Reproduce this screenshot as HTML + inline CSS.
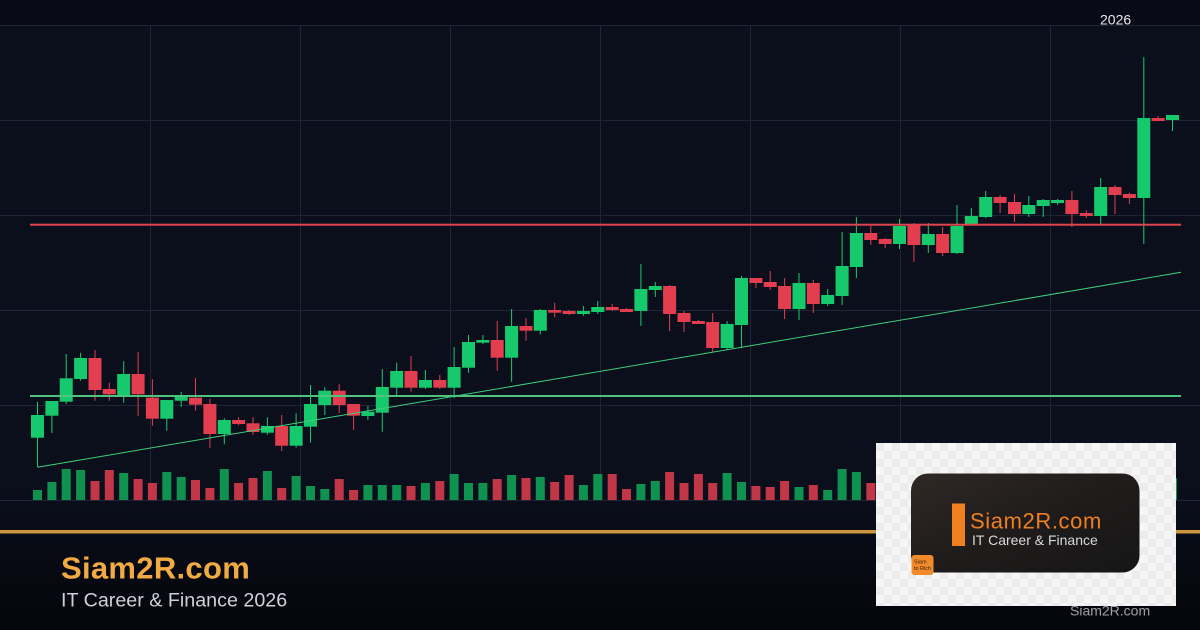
<!DOCTYPE html>
<html>
<head>
<meta charset="utf-8">
<style>
html,body{margin:0;padding:0;background:#0a0e1a;}
body{width:1200px;height:630px;overflow:hidden;}
svg{display:block;}
.g{fill:#16c96c}
.r{fill:#e23e4f}
.vg{fill:#0f914f}
.vr{fill:#c23748}
</style>
</head>
<body>
<svg width="1200" height="630" viewBox="0 0 1200 630" xmlns="http://www.w3.org/2000/svg">
<defs>
  <linearGradient id="fade" x1="0" y1="0" x2="0" y2="1">
    <stop offset="0" stop-color="#000" stop-opacity="0"/>
    <stop offset="1" stop-color="#000" stop-opacity="0.6"/>
  </linearGradient>
  <pattern id="chk" x="876" y="443" width="16" height="16" patternUnits="userSpaceOnUse">
    <rect width="16" height="16" fill="#f6f6f6"/>
    <rect width="8" height="8" fill="#ececec"/>
    <rect x="8" y="8" width="8" height="8" fill="#ececec"/>
  </pattern>
  <linearGradient id="dark" x1="0" y1="0" x2="1" y2="1">
    <stop offset="0" stop-color="#2f2825"/>
    <stop offset="0.5" stop-color="#1f1c1b"/>
    <stop offset="1" stop-color="#161616"/>
  </linearGradient>
</defs>

<!-- background -->
<rect x="0" y="0" width="1200" height="630" fill="#0b0f1c"/>
<rect x="0" y="0" width="1200" height="25" fill="#080b15"/>
<rect x="0" y="480" width="1200" height="150" fill="url(#fade)"/>

<!-- grid -->
<g stroke="#1f2436" stroke-width="1">
  <path d="M0 25.5H1200M0 120.5H1200M0 215.5H1200M0 310.5H1200M0 405.5H1200M0 500.5H1200"/>
  <path d="M150.5 25V500M300.5 25V500M450.5 25V500M600.5 25V500M750.5 25V500M900.5 25V500M1050.5 25V500"/>
</g>

<text x="1100" y="24.5" font-family="Liberation Sans, sans-serif" font-size="14" fill="#e6e8ec">2026</text>

<!-- volume bars -->
<g>
<rect class="vg" x="33" y="490" width="9" height="10"/>
<rect class="vg" x="47.4" y="482" width="9" height="18"/>
<rect class="vg" x="61.7" y="469" width="9" height="31"/>
<rect class="vg" x="76.1" y="470" width="9" height="30"/>
<rect class="vr" x="90.5" y="481" width="9" height="19"/>
<rect class="vr" x="104.8" y="470" width="9" height="30"/>
<rect class="vg" x="119.2" y="473" width="9" height="27"/>
<rect class="vr" x="133.6" y="479" width="9" height="21"/>
<rect class="vr" x="147.9" y="483" width="9" height="17"/>
<rect class="vg" x="162.3" y="472" width="9" height="28"/>
<rect class="vg" x="176.7" y="477" width="9" height="23"/>
<rect class="vr" x="191" y="480" width="9" height="20"/>
<rect class="vr" x="205.4" y="488" width="9" height="12"/>
<rect class="vg" x="219.8" y="469" width="9" height="31"/>
<rect class="vr" x="234.1" y="483" width="9" height="17"/>
<rect class="vr" x="248.5" y="478" width="9" height="22"/>
<rect class="vg" x="262.9" y="471" width="9" height="29"/>
<rect class="vr" x="277.2" y="488" width="9" height="12"/>
<rect class="vg" x="291.6" y="476" width="9" height="24"/>
<rect class="vg" x="306" y="486" width="9" height="14"/>
<rect class="vg" x="320.3" y="489" width="9" height="11"/>
<rect class="vr" x="334.7" y="479" width="9" height="21"/>
<rect class="vr" x="349.1" y="490" width="9" height="10"/>
<rect class="vg" x="363.4" y="485" width="9" height="15"/>
<rect class="vg" x="377.8" y="485" width="9" height="15"/>
<rect class="vg" x="392.2" y="485" width="9" height="15"/>
<rect class="vr" x="406.5" y="486" width="9" height="14"/>
<rect class="vg" x="420.9" y="483" width="9" height="17"/>
<rect class="vr" x="435.3" y="481" width="9" height="19"/>
<rect class="vg" x="449.6" y="474" width="9" height="26"/>
<rect class="vg" x="464" y="483" width="9" height="17"/>
<rect class="vg" x="478.4" y="483" width="9" height="17"/>
<rect class="vr" x="492.7" y="479" width="9" height="21"/>
<rect class="vg" x="507.1" y="475" width="9" height="25"/>
<rect class="vr" x="521.5" y="478" width="9" height="22"/>
<rect class="vg" x="535.8" y="477" width="9" height="23"/>
<rect class="vr" x="550.2" y="482" width="9" height="18"/>
<rect class="vr" x="564.6" y="475" width="9" height="25"/>
<rect class="vg" x="578.9" y="485" width="9" height="15"/>
<rect class="vg" x="593.3" y="474" width="9" height="26"/>
<rect class="vr" x="607.7" y="474" width="9" height="26"/>
<rect class="vr" x="622" y="489" width="9" height="11"/>
<rect class="vg" x="636.4" y="484" width="9" height="16"/>
<rect class="vg" x="650.8" y="481" width="9" height="19"/>
<rect class="vr" x="665.1" y="472" width="9" height="28"/>
<rect class="vr" x="679.5" y="483" width="9" height="17"/>
<rect class="vr" x="693.9" y="474" width="9" height="26"/>
<rect class="vr" x="708.2" y="483" width="9" height="17"/>
<rect class="vg" x="722.6" y="473" width="9" height="27"/>
<rect class="vg" x="737" y="482" width="9" height="18"/>
<rect class="vr" x="751.4" y="486" width="9" height="14"/>
<rect class="vr" x="765.7" y="487" width="9" height="13"/>
<rect class="vr" x="780.1" y="481" width="9" height="19"/>
<rect class="vg" x="794.5" y="487" width="9" height="13"/>
<rect class="vr" x="808.8" y="485" width="9" height="15"/>
<rect class="vg" x="823.2" y="490" width="9" height="10"/>
<rect class="vg" x="837.6" y="469" width="9" height="31"/>
<rect class="vg" x="851.9" y="472" width="9" height="28"/>
<rect class="vr" x="866.3" y="483" width="9" height="17"/>
<rect class="vg" x="1168" y="478" width="9" height="22"/>
</g>

<!-- wicks -->
<path fill="none" stroke="#16c96c" stroke-width="1" d="M37.5 401.7V467M51.9 401V433M66.2 354V404M80.6 352.7V380.7M123.7 361.3V402.7M166.8 400V430.7M181.2 392V406.7M224.3 418.3V444.3M267.4 417.3V434.7M296.1 413.3V447.7M310.5 385V442.7M324.8 387.3V415M367.9 406V420M382.3 369V431.7M396.7 362.7V395M425.4 370V389M454.1 347V398.3M468.5 335V372.7M482.9 335V344M511.6 309V381.7M540.3 309V334.3M583.4 306V315.7M597.8 301V314M640.9 264V326M655.3 282V297M727.1 321V350M741.5 276V348M799 273V320M827.7 289V306M842.1 232V305M856.4 217V278M899.5 219V249M928.3 223V253M957 205V254M971.4 208V224M985.7 191V218M1028.8 196V217M1043.2 199V217M1057.6 199V205M1100.7 178V224M1143.8 57V244M1172.5 115V131"/>
<path fill="none" stroke="#e23e4f" stroke-width="1" d="M95 350V400.7M109.3 382.7V400.7M138.1 352V415.7M152.4 379.3V425.7M195.5 378V410.7M209.9 399V448.3M238.6 417.3V425.3M253 417.3V434.7M281.7 415V451M339.2 384V413.3M353.6 404V430M411 356V391.7M439.8 375V389M497.2 321V370.7M526 318V340.7M554.7 302.7V317.3M569.1 310V315M612.2 304V311M626.5 308V312M669.6 285V331M684 311V332M698.4 320V324M712.7 313V352M755.9 278V288M770.2 271V290M784.6 278V319M813.3 280V313M870.8 226V245M885.2 238V248M913.9 223V262M942.6 227V256M1000.1 195V213M1014.5 194V222M1071.9 191V227M1086.3 210V218M1115 185V214M1129.4 193V204M1158.1 116V121"/>

<!-- bodies -->
<g>
<rect class="g" x="31" y="415" width="13" height="22.7"/>
<rect class="g" x="45.4" y="401" width="13" height="14.7"/>
<rect class="g" x="59.7" y="378.3" width="13" height="23.4"/>
<rect class="g" x="74.1" y="358" width="13" height="21"/>
<rect class="r" x="88.5" y="358" width="13" height="32"/>
<rect class="r" x="102.8" y="389" width="13" height="5.3"/>
<rect class="g" x="117.2" y="374" width="13" height="21.7"/>
<rect class="r" x="131.6" y="374" width="13" height="20.3"/>
<rect class="r" x="145.9" y="397.7" width="13" height="21"/>
<rect class="g" x="160.3" y="400" width="13" height="18.7"/>
<rect class="g" x="174.7" y="395.7" width="13" height="5"/>
<rect class="r" x="189" y="397.7" width="13" height="7"/>
<rect class="r" x="203.4" y="404" width="13" height="30"/>
<rect class="g" x="217.8" y="420" width="13" height="14"/>
<rect class="r" x="232.1" y="420" width="13" height="4"/>
<rect class="r" x="246.5" y="423.3" width="13" height="8.7"/>
<rect class="g" x="260.9" y="426" width="13" height="6.7"/>
<rect class="r" x="275.2" y="426" width="13" height="19.7"/>
<rect class="g" x="289.6" y="426" width="13" height="19.7"/>
<rect class="g" x="304" y="404" width="13" height="22.7"/>
<rect class="g" x="318.3" y="390.7" width="13" height="14.3"/>
<rect class="r" x="332.7" y="390.7" width="13" height="14.3"/>
<rect class="r" x="347.1" y="404" width="13" height="11.7"/>
<rect class="g" x="361.4" y="411.7" width="13" height="4.3"/>
<rect class="g" x="375.8" y="387" width="13" height="25.7"/>
<rect class="g" x="390.2" y="371" width="13" height="16.7"/>
<rect class="r" x="404.5" y="371" width="13" height="16.7"/>
<rect class="g" x="418.9" y="380" width="13" height="7.7"/>
<rect class="r" x="433.3" y="380" width="13" height="7.7"/>
<rect class="g" x="447.6" y="367" width="13" height="20.7"/>
<rect class="g" x="462" y="342" width="13" height="25.7"/>
<rect class="g" x="476.4" y="340" width="13" height="2.7"/>
<rect class="r" x="490.7" y="340" width="13" height="17.7"/>
<rect class="g" x="505.1" y="326" width="13" height="31.7"/>
<rect class="r" x="519.5" y="326" width="13" height="4.7"/>
<rect class="g" x="533.8" y="310" width="13" height="20.7"/>
<rect class="r" x="548.2" y="310" width="13" height="2.7"/>
<rect class="r" x="562.6" y="311" width="13" height="3"/>
<rect class="g" x="576.9" y="311" width="13" height="3"/>
<rect class="g" x="591.3" y="307" width="13" height="5"/>
<rect class="r" x="605.7" y="307" width="13" height="3"/>
<rect class="r" x="620" y="309" width="13" height="3"/>
<rect class="g" x="634.4" y="289" width="13" height="22"/>
<rect class="g" x="648.8" y="286" width="13" height="4"/>
<rect class="r" x="663.1" y="286" width="13" height="28"/>
<rect class="r" x="677.5" y="313" width="13" height="9"/>
<rect class="r" x="691.9" y="321" width="13" height="3"/>
<rect class="r" x="706.2" y="322" width="13" height="26"/>
<rect class="g" x="720.6" y="324" width="13" height="24"/>
<rect class="g" x="735" y="278" width="13" height="47"/>
<rect class="r" x="749.4" y="278" width="13" height="5"/>
<rect class="r" x="763.7" y="282" width="13" height="5"/>
<rect class="r" x="778.1" y="286" width="13" height="23"/>
<rect class="g" x="792.5" y="283" width="13" height="26"/>
<rect class="r" x="806.8" y="283" width="13" height="21"/>
<rect class="g" x="821.2" y="295" width="13" height="9"/>
<rect class="g" x="835.6" y="266" width="13" height="30"/>
<rect class="g" x="849.9" y="233" width="13" height="34"/>
<rect class="r" x="864.3" y="233" width="13" height="7"/>
<rect class="r" x="878.7" y="239" width="13" height="5"/>
<rect class="g" x="893" y="226" width="13" height="18"/>
<rect class="r" x="907.4" y="225" width="13" height="20"/>
<rect class="g" x="921.8" y="234" width="13" height="11"/>
<rect class="r" x="936.1" y="234" width="13" height="19"/>
<rect class="g" x="950.5" y="226" width="13" height="27"/>
<rect class="g" x="964.9" y="216" width="13" height="8"/>
<rect class="g" x="979.2" y="197" width="13" height="20"/>
<rect class="r" x="993.6" y="197" width="13" height="6"/>
<rect class="r" x="1008" y="202" width="13" height="12"/>
<rect class="g" x="1022.3" y="205" width="13" height="9"/>
<rect class="g" x="1036.7" y="200" width="13" height="6"/>
<rect class="g" x="1051.1" y="200" width="13" height="3"/>
<rect class="r" x="1065.4" y="200" width="13" height="14"/>
<rect class="r" x="1079.8" y="213" width="13" height="3"/>
<rect class="g" x="1094.2" y="187" width="13" height="29"/>
<rect class="r" x="1108.5" y="187" width="13" height="8"/>
<rect class="r" x="1122.9" y="194" width="13" height="4"/>
<rect class="g" x="1137.3" y="118" width="13" height="80"/>
<rect class="r" x="1151.6" y="118" width="13" height="3"/>
<rect class="g" x="1166" y="115" width="13" height="5"/>
</g>

<!-- level lines -->
<rect x="30" y="223.7" width="1151" height="2" fill="#e0454f"/>
<rect x="30" y="395" width="1151" height="2" fill="#4fc27e"/>
<line x1="37.5" y1="467.3" x2="1181" y2="272.3" stroke="#3fcf7d" stroke-width="1"/>

<!-- orange separator -->
<rect x="0" y="530" width="1200" height="3.5" fill="#cc963f"/>

<!-- bottom-left branding -->
<text x="61" y="578.5" font-family="Liberation Sans, Arial, sans-serif" font-size="31" font-weight="bold" fill="#f2aa42" letter-spacing="0.3">Siam2R.com</text>
<text x="61" y="606.5" font-family="Liberation Sans, Arial, sans-serif" font-size="19.7" fill="#cdd1d9">IT Career &amp; Finance 2026</text>

<!-- logo panel -->
<rect x="876" y="443" width="300" height="163" fill="url(#chk)"/>
<rect x="911" y="473.5" width="228.5" height="99" rx="17" ry="17" fill="url(#dark)"/>
<rect x="952" y="503.5" width="13" height="42.5" fill="#f07f22"/>
<text x="970" y="528.5" font-family="Liberation Sans, Arial, sans-serif" font-size="22" fill="#f0801f" letter-spacing="0.6">Siam2R.com</text>
<text x="972" y="545" font-family="Liberation Sans, Arial, sans-serif" font-size="14" fill="#d9d9d9">IT Career &amp; Finance</text>
<rect x="911.5" y="555" width="22" height="20" rx="3" ry="3" fill="#f08a2a"/>
<text x="914" y="563.5" font-family="Liberation Sans, Arial, sans-serif" font-size="5.5" fill="#3a2410">Siam</text>
<text x="914" y="570" font-family="Liberation Sans, Arial, sans-serif" font-size="5.5" fill="#3a2410">to Rich</text>

<text x="1070" y="615.5" font-family="Liberation Sans, Arial, sans-serif" font-size="14" fill="#9ea2a9">Siam2R.com</text>
</svg>
</body>
</html>
